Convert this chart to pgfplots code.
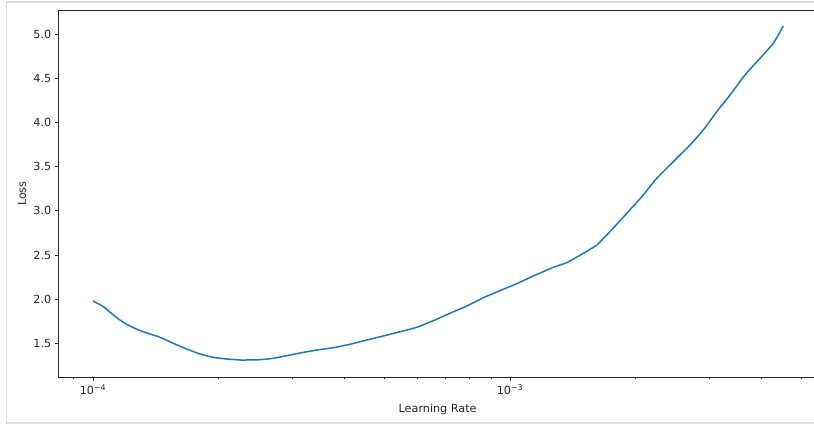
\documentclass[border=0pt]{standalone}
\usepackage{fontspec}
\setmainfont{DejaVu Sans}
\usepackage{pgfplots}
\pgfplotsset{compat=1.18}
\definecolor{mplblue}{HTML}{1F77B4}
\definecolor{framegray}{RGB}{221,221,221}
\definecolor{spine}{HTML}{262626}
\begin{document}
\begin{tikzpicture}
\draw[framegray, line width=1.5pt] (6.7pt,423pt) rectangle (840pt,2pt);
\begin{axis}[
  at={(58.3pt,47.7pt)}, anchor=south west,
  scale only axis, width=758.7pt, height=367.3pt,
  xmode=log, xmin=8.257e-5, xmax=5.447e-3,
  ymin=1.115, ymax=5.275,
  xtick={1e-4,1e-3}, xticklabels={10\textsuperscript{−4},10\textsuperscript{−3}},
  minor xtick={8e-5,9e-5,2e-4,3e-4,4e-4,5e-4,6e-4,7e-4,8e-4,9e-4,2e-3,3e-3,4e-3,5e-3},
  ytick={1.5,2.0,2.5,3.0,3.5,4.0,4.5,5.0},
  yticklabel style={/pgf/number format/fixed,/pgf/number format/fixed zerofill,/pgf/number format/precision=1},
  /pgf/number format/assume math mode=true,
  tick align=outside, xtick pos=bottom, ytick pos=left,
  major tick length=3.5pt, minor tick length=2pt,
  every tick/.style={spine, line width=0.8pt},
  axis line style={spine, line width=0.8pt},
  tick label style={font=\fontsize{11.2}{13}\selectfont, text=spine},
  label style={font=\fontsize{11.2}{13}\selectfont, text=spine},
  xlabel={Learning Rate}, ylabel={Loss},
  xlabel style={at={(axis description cs:0.5,-0.0885)}, anchor=center},
  ylabel style={at={(axis description cs:-0.0481,0.5)}, anchor=center},
]
\addplot[mplblue, line width=1.5pt, smooth, tension=0.3] coordinates {
(1.000e-4,1.979) (1.059e-4,1.915) (1.119e-4,1.821) (1.182e-4,1.738)
(1.273e-4,1.659) (1.370e-4,1.605) (1.448e-4,1.568) (1.558e-4,1.500)
(1.678e-4,1.435) (1.806e-4,1.379) (1.943e-4,1.341) (2.093e-4,1.322)
(2.251e-4,1.311) (2.337e-4,1.311) (2.515e-4,1.314) (2.706e-4,1.330)
(2.914e-4,1.360) (3.136e-4,1.390) (3.440e-4,1.424) (3.770e-4,1.450)
(4.134e-4,1.489) (4.534e-4,1.537) (4.969e-4,1.583) (5.449e-4,1.631)
(5.975e-4,1.681) (6.549e-4,1.756) (7.181e-4,1.840) (7.875e-4,1.922)
(8.630e-4,2.016) (9.462e-4,2.096) (1.038e-3,2.175) (1.137e-3,2.262)
(1.247e-3,2.345) (1.318e-3,2.387) (1.368e-3,2.413) (1.499e-3,2.519)
(1.614e-3,2.612) (1.674e-3,2.687)
(1.737e-3,2.764) (1.905e-3,2.972) (2.088e-3,3.180) (2.248e-3,3.369)
(2.464e-3,3.557) (2.702e-3,3.746) (2.908e-3,3.916) (3.131e-3,4.123)
(3.370e-3,4.312) (3.660e-3,4.539) (3.977e-3,4.728) (4.280e-3,4.898)
(4.523e-3,5.094)
};
\end{axis}
\pgfresetboundingbox
\path[use as bounding box] (0pt,0pt) rectangle (814pt,425pt);
\end{tikzpicture}
\end{document}
